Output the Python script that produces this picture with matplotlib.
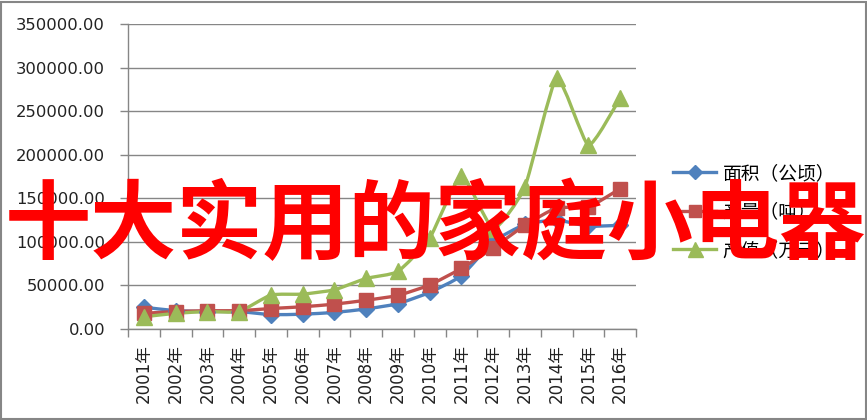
import numpy as np
import matplotlib
matplotlib.use("Agg")
import matplotlib.pyplot as plt
from matplotlib.path import Path
from matplotlib.patches import PathPatch, Rectangle
from matplotlib.lines import Line2D
from matplotlib.ticker import FuncFormatter, MultipleLocator

plt.rcParams['font.family'] = ['DejaVu Sans', 'Noto Sans CJK SC']

years = ['2001年', '2002年', '2003年', '2004年', '2005年', '2006年', '2007年', '2008年',
         '2009年', '2010年', '2011年', '2012年', '2013年', '2014年', '2015年', '2016年']
area = [25000, 21000, 20000, 20000, 16500, 17000, 19000, 23000,
        29000, 42000, 61000, 100000, 120000, 125000, 118000, 119000]
output = [18000, 20000, 21000, 21000, 23500, 25500, 28500, 33000,
          38500, 50500, 69500, 93000, 119000, 139000, 140000, 161000]
value = [14000, 18000, 20000, 20000, 39000, 40000, 45000, 58000,
         66000, 104000, 176000, 115000, 163000, 288000, 211000, 265000]
series_names = ['面积（公顷）', '产量（吨）', '产值（万元）']
overlay_text = '十大实用的家庭小电器'

colors = ['#4F81BD', '#C0504D', '#9BBB59']
markers = ['D', 's', '^']
msizes = [8, 10, 12]

fig = plt.figure(figsize=(8.67, 4.2), dpi=100)
ax = fig.add_axes([128/867, 1-329/420, (636-128)/867, (329-24)/420])

x = np.arange(len(years))


def smooth_path(xs, ys, k=1/12.0):
    pts = np.column_stack([xs, ys]).astype(float)
    n = len(pts)
    verts = [pts[0]]
    codes = [Path.MOVETO]
    for i in range(n - 1):
        p0 = pts[i - 1] if i > 0 else pts[i]
        p1 = pts[i]
        p2 = pts[i + 1]
        p3 = pts[i + 2] if i + 2 < n else pts[i + 1]
        c1 = p1 + (p2 - p0) * k
        c2 = p2 - (p3 - p1) * k
        verts += [c1, c2, p2]
        codes += [Path.CURVE4] * 3
    return Path(verts, codes)


for ys, c, m, ms in zip([area, output, value], colors, markers, msizes):
    ax.add_patch(PathPatch(smooth_path(x, ys), facecolor='none', edgecolor=c,
                           lw=2.4, zorder=3, capstyle='round', joinstyle='round'))
    ax.plot(x, ys, linestyle='none', marker=m, markersize=ms, color=c,
            markeredgecolor=c, zorder=4)

ax.set_xlim(-0.5, len(years) - 0.5)
ax.set_ylim(0, 350000)
ax.yaxis.set_major_locator(MultipleLocator(50000))
ax.yaxis.set_major_formatter(FuncFormatter(lambda v, p: f'{v:.2f}'))
ax.grid(axis='y', color='#868686', lw=1.0)
ax.set_axisbelow(True)

ax.set_xticks(x)
ax.set_xticklabels(years, rotation=90, fontsize=12)
ax.set_xticks(np.arange(-0.5, len(years)), minor=True)
ax.tick_params(axis='x', which='major', length=0, pad=11)
ax.tick_params(axis='x', which='minor', length=6, color='#868686', width=1)
ax.tick_params(axis='y', length=6, color='#868686', width=1, labelsize=11.8, pad=10.5,
               labelcolor='#222222')
ax.tick_params(axis='x', labelcolor='#222222')

for s in ['top', 'right']:
    ax.spines[s].set_visible(False)
for s in ['left', 'bottom']:
    ax.spines[s].set_color('#868686')
    ax.spines[s].set_linewidth(1.0)

handles = [Line2D([0], [0], color=c, lw=2.4, marker=m, markersize=ms * 0.9)
           for c, m, ms in zip(colors, markers, msizes)]
fig.legend(handles, series_names, loc='upper left', bbox_to_anchor=(673/867, 1-163/420),
           frameon=False, handlelength=2.3, handletextpad=0.35,
           labelspacing=0.93, borderpad=0, borderaxespad=0,
           prop={'family': ['Noto Sans CJK SC', 'DejaVu Sans'], 'size': 13.5})

fig.text(0.502, 0.46, overlay_text, color='#FF0000', fontsize=62, fontweight='bold',
         family=['Noto Sans CJK SC', 'DejaVu Sans'], ha='center', va='center', zorder=10)

fig.patches.append(Rectangle((0.5/867, 1.5/420), 865/867, 417/420, transform=fig.transFigure,
                             fill=False, edgecolor='#868686', lw=1.5))

fig.savefig('out.png', dpi=100)
